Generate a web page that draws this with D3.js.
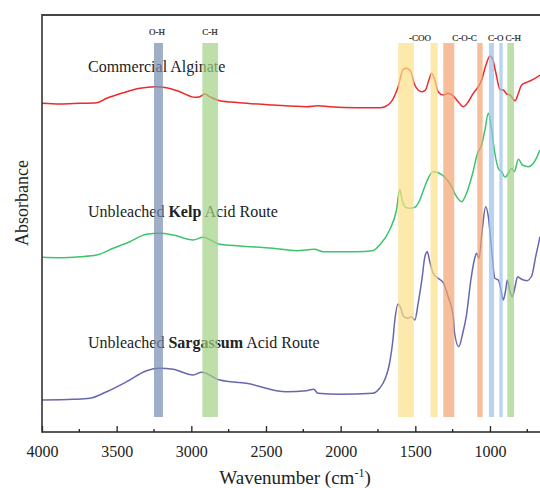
<!DOCTYPE html>
<html><head><meta charset="utf-8">
<script src="https://cdn.jsdelivr.net/npm/d3@7"></script>
<style>html,body{margin:0;padding:0;background:#fff;}svg{display:block;}</style>
</head><body>
<script>
// ---- data (wavenumber cm-1, absorbance a.u., stacked offsets included) ----
const redW = [4000,3880,3746,3634,3567,3456,3344,3244,3166,3077,2977,2943,2910,2876,2809,2676,2453,2230,2152,2074,1895,1739,1704,1660,1615,1581,1559,1530,1508,1481,1454,1432,1409,1391,1373,1347,1313,1280,1246,1213,1179,1145,1112,1078,1056,1027,1000,984,960,933,911,888,866,832,810,788,743,698,665];
const redA = [3.287,3.28,3.287,3.293,3.337,3.393,3.437,3.453,3.443,3.403,3.347,3.353,3.38,3.353,3.313,3.293,3.27,3.253,3.263,3.253,3.243,3.243,3.253,3.303,3.453,3.627,3.637,3.603,3.487,3.42,3.403,3.42,3.52,3.587,3.537,3.403,3.37,3.387,3.36,3.303,3.253,3.303,3.387,3.453,3.52,3.67,3.76,3.737,3.587,3.427,3.42,3.38,3.37,3.313,3.387,3.47,3.503,3.537,3.57];

const greenW = [4000,3880,3746,3634,3523,3411,3300,3211,3122,2988,2921,2809,2676,2453,2296,2174,2118,1895,1784,1739,1672,1626,1604,1588,1566,1537,1503,1470,1441,1414,1381,1347,1302,1257,1224,1190,1157,1119,1083,1056,1034,1011,993,971,944,922,899,877,855,837,810,783,743,709,665];
const greenA = [1.747,1.743,1.753,1.77,1.837,1.903,1.977,1.987,1.97,1.92,1.947,1.877,1.86,1.837,1.813,1.827,1.803,1.803,1.813,1.87,2.02,2.22,2.427,2.32,2.247,2.237,2.247,2.32,2.437,2.537,2.603,2.593,2.547,2.453,2.353,2.303,2.387,2.57,2.787,2.87,3.02,3.187,3.07,2.82,2.637,2.603,2.547,2.587,2.637,2.603,2.727,2.67,2.653,2.687,2.82];

const purpleW = [4000,3790,3679,3567,3433,3300,3211,3122,2988,2932,2809,2631,2363,2230,2181,2152,2007,1784,1739,1700,1672,1650,1637,1615,1597,1581,1548,1526,1503,1481,1454,1436,1420,1403,1380,1347,1313,1280,1246,1237,1209,1182,1159,1128,1105,1090,1074,1052,1029,1011,989,967,944,926,911,895,884,866,850,832,815,788,754,721,694,665];
const purpleA = [0.32,0.327,0.337,0.403,0.503,0.613,0.637,0.627,0.57,0.597,0.52,0.487,0.403,0.413,0.427,0.387,0.377,0.387,0.437,0.54,0.69,0.92,1.12,1.28,1.237,1.16,1.137,1.153,1.12,1.287,1.547,1.753,1.803,1.703,1.587,1.537,1.493,1.353,1.153,0.99,0.853,0.99,1.153,1.52,1.72,1.787,1.737,2.02,2.253,2.153,1.82,1.537,1.52,1.42,1.32,1.42,1.52,1.403,1.353,1.453,1.553,1.527,1.513,1.56,1.753,1.953];

const seriesNames = ["Commercial Alginate","Unbleached Kelp Acid Route","Unbleached Sargassum Acid Route"];

// highlighted bands (cm-1)
const bandHigh = [3250,2926,1615,1398,1313,1085,1007,937,884];
const bandLow  = [3190,2821,1510,1350,1239,1049,973,915,839];
const bandType = ["oh","ch","coo","coo","coc","coc","co","co","ch"];

// group annotations
const groupLabels = ["O-H","C-H","-COO","C-O-C","C-O","C-H"];
const groupPos    = [3230,2875,1469,1171,962,844];
const groupRow    = [0,0,1,1,1,1];

const xTicks = [4000,3500,3000,2500,2000,1500,1000];
const xMinor = [3750,3250,2750,2250,1750,1250,750];

// ---- layout ----
const W = 540, H = 488;
const L = 42, R = 540, T = 15, B = 432;
const svg = d3.select("body").append("svg").attr("width", W).attr("height", H);
const x = d3.scaleLinear().domain([4000, 665]).range([L, R]);
const y = d3.scaleLinear().domain([0, 4.17]).range([B, T]);
const serif = "'Liberation Serif','Times New Roman',serif";

const bandColor = {oh:"rgb(119,141,176)", ch:"rgb(162,208,134)", coo:"rgb(252,224,136)", coc:"rgb(242,162,112)", co:"rgb(151,194,234)"};

// curves
const line = d3.line().x(d => x(d[0])).y(d => y(d[1])).curve(d3.curveMonotoneX);
const series = [
  {w: redW, a: redA, color: "#ec2a2c"},
  {w: greenW, a: greenA, color: "#3ec46c"},
  {w: purpleW, a: purpleA, color: "#6767ad"}
];
series.forEach(s => {
  svg.append("path").datum(d3.zip(s.w, s.a)).attr("d", line)
    .attr("fill", "none").attr("stroke", s.color).attr("stroke-width", 1.5).attr("stroke-linejoin","round");
});

// series labels
const labelG = svg.append("g").attr("font-family", serif).attr("font-size", 16).attr("fill", "#222");
const lab1 = labelG.append("text").attr("x", 88).attr("y", 72);
lab1.append("tspan").text(seriesNames[0]);
const lab2 = labelG.append("text").attr("x", 88).attr("y", 217);
lab2.append("tspan").text("Unbleached ");
lab2.append("tspan").attr("font-weight","bold").text("Kelp");
lab2.append("tspan").text(" Acid Route");
const lab3 = labelG.append("text").attr("x", 88).attr("y", 348);
lab3.append("tspan").text("Unbleached ");
lab3.append("tspan").attr("font-weight","bold").text("Sargassum");
lab3.append("tspan").text(" Acid Route");

// bands overlay
svg.append("g").selectAll("rect").data(d3.range(bandHigh.length)).join("rect")
  .attr("x", i => x(bandHigh[i])).attr("width", i => x(bandLow[i]) - x(bandHigh[i]))
  .attr("y", 43).attr("height", 417 - 43)
  .attr("fill", i => bandColor[bandType[i]]).attr("fill-opacity", 0.7);

// group labels
svg.append("g").selectAll("text").data(d3.range(groupLabels.length)).join("text")
  .attr("x", i => x(groupPos[i])).attr("y", i => groupRow[i] ? 41 : 35)
  .attr("text-anchor","middle").attr("font-family", serif).attr("font-size", 9)
  .attr("fill","#222").attr("stroke","#222").attr("stroke-width",0.2).text(i => groupLabels[i]);

// axes
const ax = svg.append("g").attr("transform", `translate(0,${B})`);
ax.call(d3.axisBottom(x).tickValues(xTicks).tickSize(-6).tickPadding(14).tickFormat(d3.format("d")))
  .call(g => g.select(".domain").remove());
ax.selectAll(".tick line").attr("stroke", "#222").attr("stroke-width", 1.3);
ax.selectAll(".tick text").attr("font-family", serif).attr("font-size", 16).attr("fill", "#222");
ax.append("g").selectAll("line").data(xMinor).join("line")
  .attr("x1", d => x(d)).attr("x2", d => x(d)).attr("y1", 0).attr("y2", -3)
  .attr("stroke", "#222").attr("stroke-width", 1.3);

svg.append("line").attr("x1", L).attr("x2", R).attr("y1", B).attr("y2", B).attr("stroke", "#222").attr("stroke-width", 1.6);
svg.append("line").attr("x1", L).attr("x2", L).attr("y1", T - 1).attr("y2", B + 0.8).attr("stroke", "#333").attr("stroke-width", 1.6);
svg.append("line").attr("x1", L).attr("x2", R).attr("y1", T).attr("y2", T).attr("stroke", "#444").attr("stroke-width", 2.2);

// axis titles
const xt = svg.append("text").attr("x", (L + R) / 2 + 4).attr("y", 484).attr("text-anchor", "middle")
  .attr("font-family", serif).attr("font-size", 19).attr("fill", "#222");
xt.append("tspan").text("Wavenumber (cm");
xt.append("tspan").attr("font-size", 12).attr("dy", -7).text("-1");
xt.append("tspan").attr("dy", 7).text(")");

svg.append("text").attr("transform", "translate(28,203) rotate(-90)").attr("text-anchor", "middle")
  .attr("font-family", serif).attr("font-size", 18).attr("fill", "#222").text("Absorbance");
</script>
</body></html>
